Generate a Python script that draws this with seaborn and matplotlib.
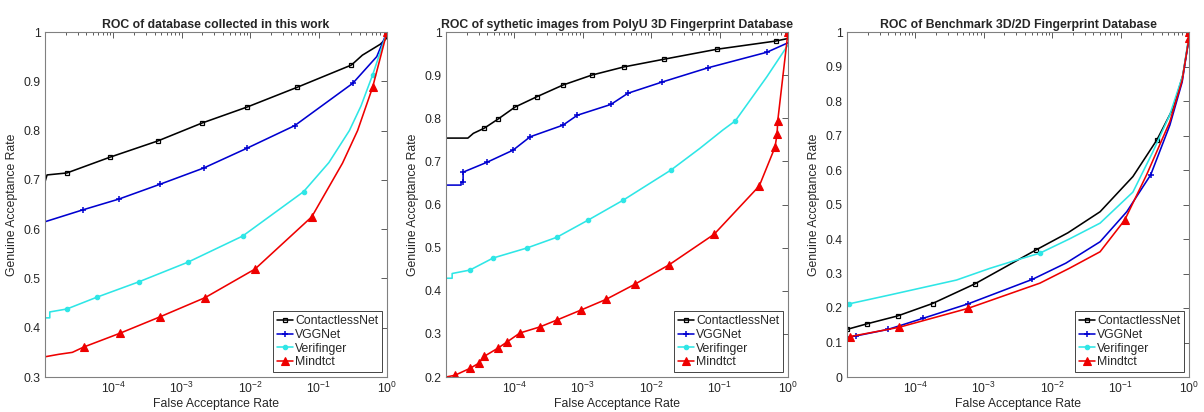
#!/usr/bin/env python
# coding: utf-8
import matplotlib
matplotlib.use("Agg")
from matplotlib import pyplot as plt
from matplotlib.ticker import FixedLocator, FuncFormatter, LogFormatterSciNotation, NullFormatter
import seaborn as sb

sb.set_style("white")
plt.rcParams['font.family'] = ['Liberation Sans', 'DejaVu Sans']
plt.rcParams['mathtext.default'] = 'regular'

methods = ['ContactlessNet', 'VGGNet', 'Verifinger', 'Mindtct']
titles = ['ROC of database collected in this work',
          'ROC of sythetic images from PolyU 3D Fingerprint Database',
          'ROC of Benchmark 3D/2D Fingerprint Database']

# FAR values stored as log10 exponents, GAR as fraction
# panel 1
p1_cnet_far = [-5.0, -4.97, -4.68, -4.05, -3.35, -2.71, -2.04, -1.31, -0.52, -0.36, -0.1, 0.0, 0.0]
p1_cnet_gar = [0.696, 0.71, 0.714, 0.746, 0.779, 0.815, 0.848, 0.888, 0.933, 0.953, 0.975, 0.988, 1.0]
p1_vgg_far = [-5.0, -4.45, -3.92, -3.32, -2.68, -2.05, -1.35, -0.50, -0.15, 0.0]
p1_vgg_gar = [0.615, 0.639, 0.661, 0.691, 0.724, 0.764, 0.81, 0.896, 0.95, 1.0]
p1_veri_far = [-5.0, -4.93, -4.93, -4.68, -4.24, -3.63, -2.91, -2.11, -1.22, -0.85, -0.55, -0.38, -0.21, 0.0]
p1_veri_gar = [0.42, 0.42, 0.432, 0.438, 0.462, 0.493, 0.533, 0.586, 0.676, 0.735, 0.80, 0.85, 0.913, 1.0]
p1_mind_far = [-5.0, -4.8, -4.6, -4.43, -3.90, -3.32, -2.66, -1.93, -1.10, -0.65, -0.43, -0.21, 0.0]
p1_mind_gar = [0.341, 0.346, 0.350, 0.361, 0.389, 0.422, 0.461, 0.519, 0.625, 0.734, 0.80, 0.888, 1.0]

# panel 2
p2_cnet_far = [-5.0, -4.68, -4.6, -4.44, -4.24, -3.99, -3.67, -3.29, -2.87, -2.40, -1.81, -1.04, -0.18, 0.0, 0.0]
p2_cnet_gar = [0.754, 0.754, 0.765, 0.777, 0.798, 0.826, 0.85, 0.877, 0.90, 0.919, 0.937, 0.96, 0.979, 0.985, 1.0]
p2_vgg_far = [-5.0, -4.78, -4.78, -4.75, -4.75, -4.40, -4.02, -3.77, -3.29, -3.08, -2.59, -2.34, -1.84, -1.17, -0.31, 0.0]
p2_vgg_gar = [0.645, 0.645, 0.652, 0.652, 0.675, 0.698, 0.726, 0.757, 0.784, 0.807, 0.832, 0.858, 0.884, 0.917, 0.953, 0.975]
p2_veri_far = [-5.0, -4.91, -4.91, -4.65, -4.31, -3.82, -3.38, -2.92, -2.41, -1.71, -1.29, -0.95, -0.77, -0.31, 0.0]
p2_veri_gar = [0.429, 0.429, 0.44, 0.448, 0.476, 0.499, 0.524, 0.564, 0.61, 0.68, 0.73, 0.773, 0.794, 0.896, 0.97]
p2_mind_far = [-5.0, -4.87, -4.65, -4.52, -4.44, -4.24, -4.11, -3.92, -3.63, -3.38, -3.03, -2.66, -2.24,
               -1.74, -1.08, -0.42, -0.19, -0.16, -0.15, 0.0]
p2_mind_gar = [0.2, 0.204, 0.22, 0.232, 0.248, 0.267, 0.281, 0.302, 0.316, 0.332, 0.355, 0.38, 0.415,
               0.46, 0.531, 0.643, 0.733, 0.763, 0.794, 1.0]

# panel 3
p3_cnet_far = [-5.0, -4.71, -4.26, -3.75, -3.13, -2.24, -1.77, -1.30, -0.82, -0.47, -0.23, -0.09, 0.0]
p3_cnet_gar = [0.138, 0.154, 0.177, 0.213, 0.27, 0.368, 0.418, 0.479, 0.581, 0.687, 0.78, 0.875, 0.983]
p3_vgg_far = [-5.0, -4.87, -4.40, -3.89, -3.23, -2.29, -1.8, -1.30, -0.91, -0.56, -0.28, -0.10, 0.0]
p3_vgg_gar = [0.115, 0.119, 0.138, 0.17, 0.212, 0.283, 0.33, 0.392, 0.479, 0.586, 0.73, 0.855, 0.983]
p3_veri_far = [-4.97, -4.37, -3.40, -2.91, -2.52, -2.18, -1.75, -1.30, -0.82, -0.53, -0.28, -0.09, 0.0]
p3_veri_gar = [0.212, 0.238, 0.281, 0.315, 0.339, 0.359, 0.40, 0.446, 0.536, 0.652, 0.76, 0.875, 0.99]
p3_mind_far = [-4.96, -4.24, -3.23, -2.18, -1.75, -1.30, -0.94, -0.62, -0.28, -0.10, 0.0, 0.0]
p3_mind_gar = [0.117, 0.144, 0.199, 0.272, 0.315, 0.363, 0.455, 0.586, 0.74, 0.86, 0.983, 1.0]

panels = [
    [(p1_cnet_far, p1_cnet_gar, [2, 3, 4, 5, 6, 7, 8]),
     (p1_vgg_far, p1_vgg_gar, [1, 2, 3, 4, 5, 6, 7]),
     (p1_veri_far, p1_veri_gar, [3, 4, 5, 6, 7, 8, 12]),
     (p1_mind_far, p1_mind_gar, [3, 4, 5, 6, 7, 8, 11, 12])],
    [(p2_cnet_far, p2_cnet_gar, list(range(3, 13))),
     (p2_vgg_far, p2_vgg_gar, list(range(3, 15))),
     (p2_veri_far, p2_veri_gar, [3, 4, 5, 6, 7, 8, 9, 12]),
     (p2_mind_far, p2_mind_gar, list(range(1, 20)))],
    [(p3_cnet_far, p3_cnet_gar, [0, 1, 2, 3, 4, 5, 9]),
     (p3_vgg_far, p3_vgg_gar, [1, 2, 3, 4, 5, 9]),
     (p3_veri_far, p3_veri_gar, [0, 5]),
     (p3_mind_far, p3_mind_gar, [0, 1, 2, 6, 10, 11])],
]
ylims = [(0.3, 1.0), (0.2, 1.0), (0.0, 1.0)]

# matlab-ish line styles
styles = [dict(color='k', marker='s', markersize=3.5, markerfacecolor='none', markeredgecolor='k', markeredgewidth=0.9),
          dict(color='#0000d0', marker='+', markersize=5, markerfacecolor='#0000d0', markeredgecolor='#0000d0', markeredgewidth=1.1),
          dict(color='#2ee6e6', marker='o', markersize=3.2, markerfacecolor='#2ee6e6', markeredgecolor='#2ee6e6', markeredgewidth=0.8),
          dict(color='#ee0000', marker='^', markersize=5.5, markerfacecolor='#ee0000', markeredgecolor='#ee0000', markeredgewidth=0.8)]

fig = plt.figure(figsize=(12.04, 4.12), dpi=100)
lefts = [45 / 1204, 446 / 1204, 847 / 1204]
width = 342 / 1204
bottom = 1 - 377 / 412
height = 345 / 412

fs = 8.8
axcol = '#404040'
for k in range(3):
    ax = fig.add_axes([lefts[k], bottom, width, height])
    ax.set_xscale('log')
    for (far, gar, mk), name, st in zip(panels[k], methods, styles):
        sb.lineplot(x=[10.0 ** v for v in far], y=gar, ax=ax, sort=False, estimator=None,
                    linewidth=1.15, markevery=mk, label=name, **st)
    ax.set_xlim(1e-5, 1)
    ax.set_ylim(*ylims[k])
    ax.xaxis.set_major_locator(FixedLocator([1e-4, 1e-3, 1e-2, 1e-1, 1]))
    ax.xaxis.set_major_formatter(LogFormatterSciNotation())
    minors = [m * 10.0 ** e for e in range(-5, 0) for m in range(2, 10)]
    ax.xaxis.set_minor_locator(FixedLocator(minors))
    ax.xaxis.set_minor_formatter(NullFormatter())
    lo, hi = ylims[k]
    yt = [round(lo + 0.1 * i, 1) for i in range(int(round((hi - lo) * 10)) + 1)]
    ax.yaxis.set_major_locator(FixedLocator(yt))
    ax.yaxis.set_major_formatter(FuncFormatter(lambda v, p: '%g' % v))
    ax.tick_params(which='both', direction='in', top=True, right=True, colors=axcol,
                   labelcolor='#262626', labelsize=fs, width=0.6)
    ax.tick_params(which='major', length=4, pad=3)
    ax.tick_params(which='minor', length=2)
    for s in ax.spines.values():
        s.set_color('#808080')
        s.set_linewidth(0.8)
    ax.set_xlabel('False Acceptance Rate', fontsize=fs, color='#262626', labelpad=1)
    ax.set_ylabel('Genuine Acceptance Rate', fontsize=fs, color='#262626', labelpad=4)
    ax.set_title(titles[k], fontsize=fs, fontweight='bold', pad=3)
    leg = ax.legend(loc='lower right', fontsize=fs, fancybox=False, framealpha=1,
                    edgecolor='#262626', handlelength=1.3, handletextpad=0.2,
                    labelspacing=0.15, borderpad=0.3, borderaxespad=0.4, numpoints=1)
    leg.get_frame().set_linewidth(0.6)

fig.savefig('out.png', dpi=100)
